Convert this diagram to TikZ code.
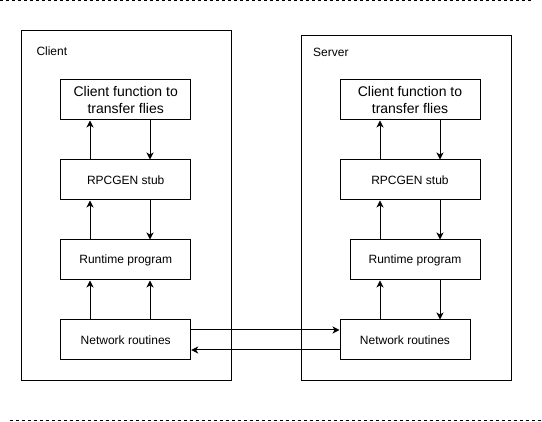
\documentclass[tikz,border=0pt]{standalone}
\usepackage{fontspec}
\setmainfont{Liberation Sans}
\usetikzlibrary{arrows.meta}

\begin{document}
\begin{tikzpicture}[x=1pt, y=-1pt, line width=1pt,
  frame/.style={draw, anchor=north west, inner sep=0pt},
  block/.style={draw, minimum width=130pt, minimum height=40pt, inner sep=0pt,
    font=\fontsize{12}{14}\selectfont},
  tbox/.style={block, align=center, font=\fontsize{14}{17}\selectfont},
  title/.style={anchor=west, inner sep=0pt, font=\fontsize{12}{14}\selectfont},
  arr/.style={-{Stealth[length=7pt, width=7pt, inset=2pt]}}]
\useasboundingbox (0,0) rectangle (542,422);

% dashed separators
\draw[dash pattern=on 3pt off 3pt] (0,1) -- (532,1);
\draw[dash pattern=on 3pt off 3pt] (10,420.5) -- (542,420.5);

% Client side
\node[frame, minimum width=210pt, minimum height=349.5pt] (client) at (20.5,30.5) {};
\node[title] (clabel) at (36,51.5) {Client};
\node[tbox] (cfun) at (125.7,100) {Client function to\\transfer flies};
\node[block] (crpc) at (125.7,180) {RPCGEN stub};
\node[block] (crun) at (125.7,260) {Runtime program};
\node[block] (cnet) at (125.7,340) {Network routines};

% Server side
\node[frame, minimum width=210pt, minimum height=345pt] (server) at (300.5,35) {};
\node[title] (slabel) at (312.7,52.3) {Server};
\node[tbox, minimum width=140pt] (sfun) at (410,100) {Client function to\\transfer flies};
\node[block, minimum width=140pt] (srpc) at (410,180) {RPCGEN stub};
\node[block] (srun) at (415,260) {Runtime program};
\node[block] (snet) at (405,340) {Network routines};

% arrow columns
\coordinate (cl) at (90,0);  \coordinate (cr) at (150,0);
\coordinate (sl) at (380,0); \coordinate (sr) at (440,0);

% client arrows
\draw[arr] (crpc.north -| cl) -- (cfun.south -| cl);
\draw[arr] (cfun.south -| cr) -- (crpc.north -| cr);
\draw[arr] (crun.north -| cl) -- (crpc.south -| cl);
\draw[arr] (crpc.south -| cr) -- (crun.north -| cr);
\draw[arr] (cnet.north -| cl) -- (crun.south -| cl);
\draw[arr] (cnet.north -| cr) -- (crun.south -| cr);

% server arrows
\draw[arr] (srpc.north -| sl) -- (sfun.south -| sl);
\draw[arr] (sfun.south -| sr) -- (srpc.north -| sr);
\draw[arr] (srun.north -| sl) -- (srpc.south -| sl);
\draw[arr] (srpc.south -| sr) -- (srun.north -| sr);
\draw[arr] (snet.north -| sl) -- (srun.south -| sl);
\draw[arr] (srun.south -| sr) -- (snet.north -| sr);

% between the two
\draw[arr] ([yshift=10pt]cnet.east) -- ([yshift=10pt]snet.west);
\draw[arr] ([yshift=-10pt]snet.west) -- ([yshift=-10pt]cnet.east);
\end{tikzpicture}
\end{document}
